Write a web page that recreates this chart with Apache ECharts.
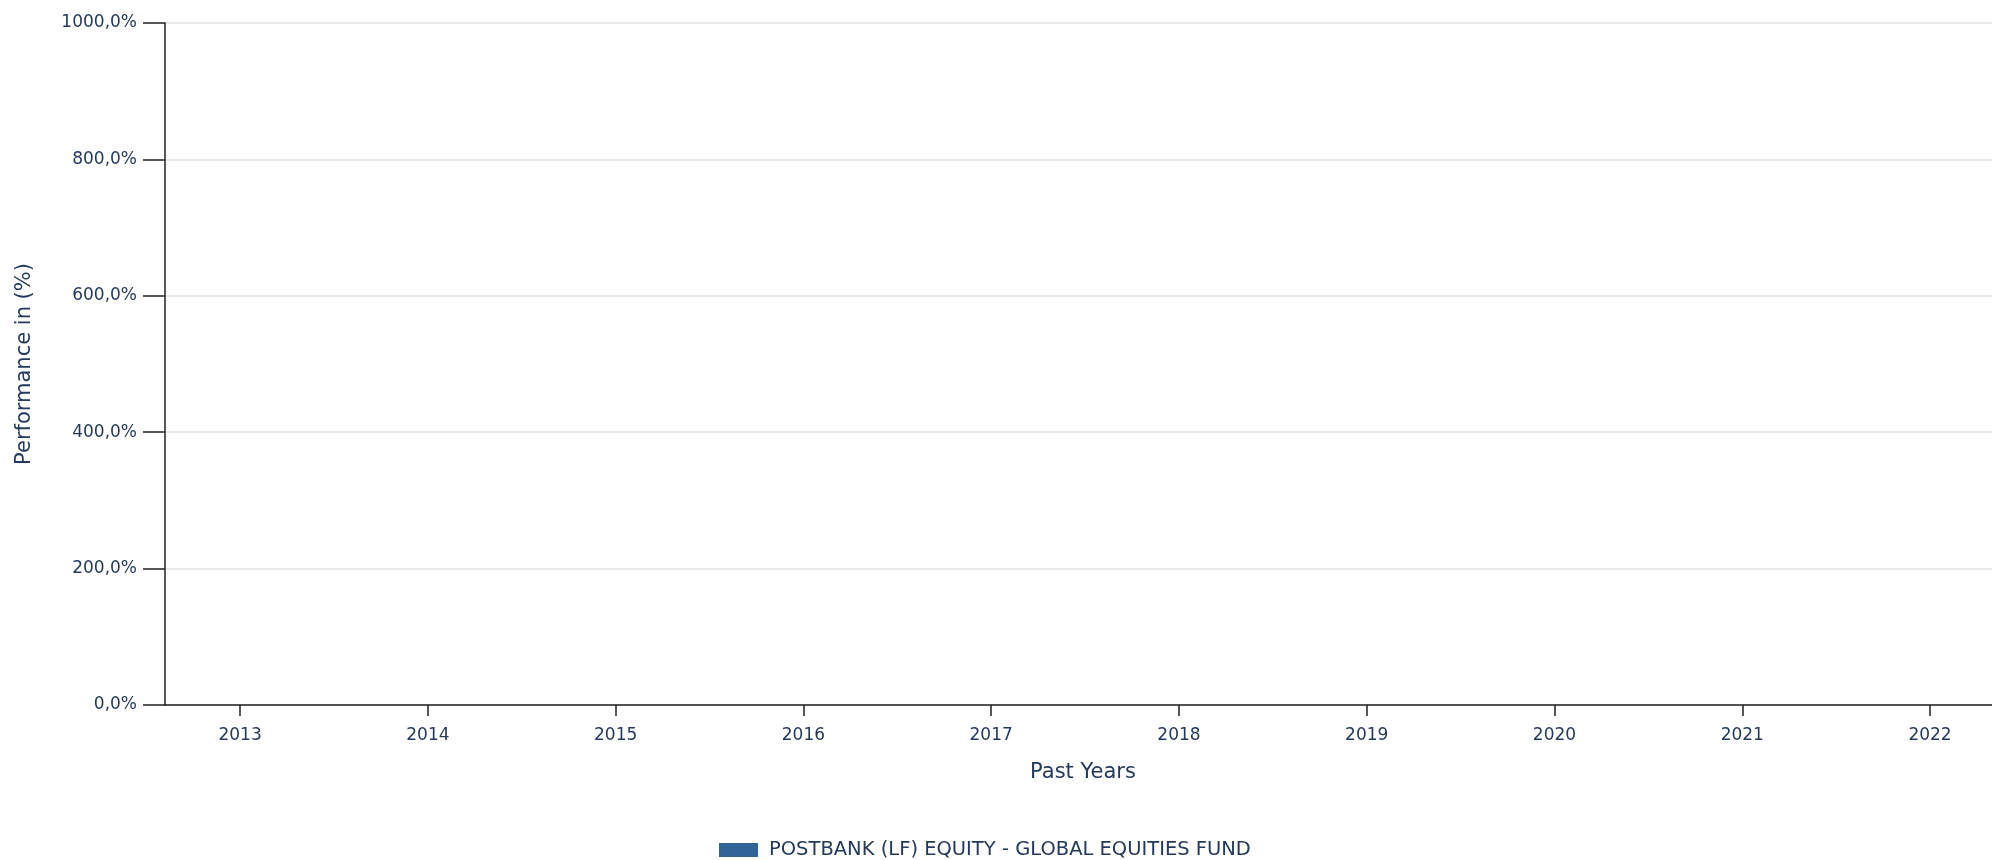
<!DOCTYPE html>
<html>
<head>
<meta charset="utf-8">
<script src="https://cdn.jsdelivr.net/npm/echarts@6/dist/echarts.min.js"></script>
<style>
html,body{margin:0;padding:0;background:#fff;}
#chart{width:1992px;height:860px;}
</style>
</head>
<body>
<div id="chart"></div>
<script>
// Data
var years = [2013, 2014, 2015, 2016, 2017, 2018, 2019, 2020, 2021, 2022];
var fundValues = [null, null, null, null, null, null, null, null, null, null];
var seriesName = 'POSTBANK (LF) EQUITY - GLOBAL EQUITIES FUND';
var yTicks = [0, 200, 400, 600, 800, 1000];

var textColor = '#25395c';
var fontFamily = 'DejaVu Sans';

var chart = echarts.init(document.getElementById('chart'), null, {renderer: 'canvas'});
var option = {
  animation: false,
  backgroundColor: '#ffffff',
  textStyle: {fontFamily: fontFamily, color: textColor},
  grid: {left: 165, top: 23, right: 0, bottom: 155, containLabel: false},
  legend: {
    data: [seriesName],
    left: 719,
    top: 840,
    padding: 0,
    itemWidth: 39,
    itemHeight: 14,
    icon: 'rect',
    textStyle: {color: textColor, fontSize: 19.5, fontFamily: fontFamily, padding: [0, 0, 0, 6]}
  },
  xAxis: {
    type: 'value',
    min: 2012.6,
    max: 2022.33,
    name: 'Past Years',
    nameLocation: 'middle',
    nameGap: 57,
    nameTextStyle: {color: textColor, fontSize: 21, fontFamily: fontFamily, padding: [0, 0, 0, 9]},
    axisLine: {show: true, onZero: false, lineStyle: {color: '#222222', width: 1.5}},
    axisTick: {show: true, length: 11, customValues: years, lineStyle: {color: '#222222', width: 1.5}},
    axisLabel: {customValues: years, margin: 22, color: textColor, fontSize: 17, fontFamily: fontFamily,
      formatter: function (v) { return String(v); }},
    splitLine: {show: false}
  },
  yAxis: {
    type: 'value',
    min: yTicks[0],
    max: yTicks[yTicks.length - 1],
    interval: 200,
    name: 'Performance in (%)',
    nameLocation: 'middle',
    nameGap: 130,
    nameTextStyle: {color: textColor, fontSize: 21, fontFamily: fontFamily},
    axisLine: {show: true, lineStyle: {color: '#222222', width: 1.5}},
    axisTick: {show: true, length: 22, lineStyle: {color: '#222222', width: 1.5}},
    axisLabel: {margin: 28, color: textColor, fontSize: 17, fontFamily: fontFamily,
      formatter: function (v) { return v.toFixed(1).replace('.', ',') + '%'; }},
    splitLine: {show: true, lineStyle: {color: '#e3e3e3', width: 1.5}}
  },
  series: [{
    name: seriesName,
    type: 'bar',
    itemStyle: {color: '#316597'},
    barWidth: 60,
    data: years.map(function (y, i) { return [y, fundValues[i]]; })
  }]
};
chart.setOption(option);
</script>
</body>
</html>
